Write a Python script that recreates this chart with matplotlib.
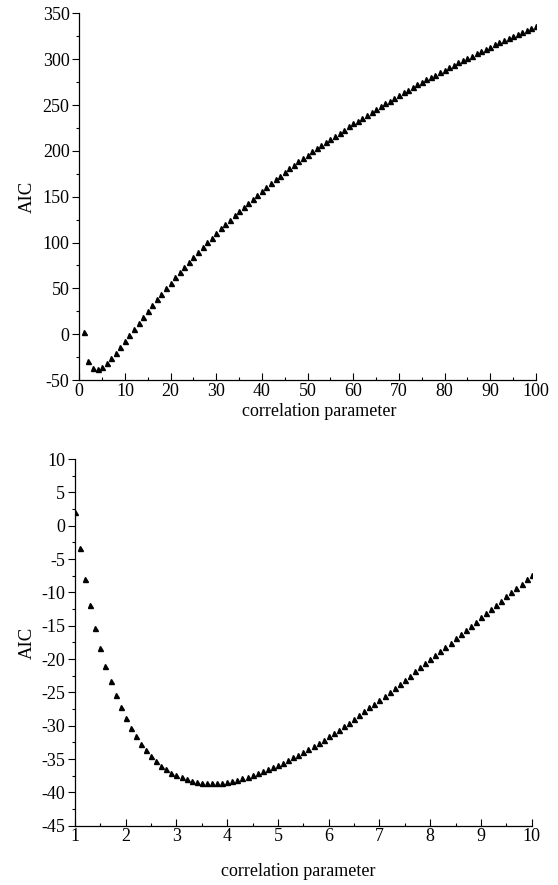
import matplotlib
matplotlib.use('Agg')
import matplotlib.pyplot as plt
from matplotlib.ticker import MultipleLocator

plt.rcParams['font.family'] = ['Liberation Serif', 'DejaVu Serif']
plt.rcParams['axes.unicode_minus'] = False

# Wide scan: correlation parameter 1..100
wide_x = list(range(1, 101))
wide_aic = [
    2.0, -28.85, -37.4, -38.4, -35.9, -31.6, -26.1, -20.0, -13.75, -7.4,
    -0.9, 5.7, 12.3, 18.8, 25.3, 31.7, 38.0, 44.2, 50.3, 56.3,
    62.2, 68.0, 73.6, 79.1, 84.5, 89.8, 95.0, 100.2, 105.3, 110.3,
    115.3, 120.1, 124.9, 129.7, 134.3, 138.9, 143.4, 147.9, 152.3, 156.6,
    160.8, 165.0, 169.1, 173.1, 177.1, 181.0, 184.8, 188.5, 192.2, 195.8,
    199.4, 202.9, 206.4, 209.8, 213.2, 216.6, 220.0, 223.3, 226.6, 229.9,
    233.1, 236.3, 239.5, 242.7, 245.8, 248.8, 251.9, 254.9, 257.9, 260.9,
    263.8, 266.7, 269.5, 272.4, 275.2, 277.9, 280.6, 283.3, 286.0, 288.6,
    291.2, 293.8, 296.4, 298.9, 301.4, 303.9, 306.4, 308.9, 311.3, 313.7,
    316.1, 318.5, 320.8, 323.2, 325.5, 327.8, 330.0, 332.3, 334.5, 336.7,
]

# Fine scan: correlation parameter 1.0..10.0 in steps of 0.1
fine_x = [round(1 + i / 10, 1) for i in range(91)]
fine_aic = [
    2.0, -3.3, -7.95, -11.9, -15.35, -18.35, -21.0, -23.35, -25.4, -27.25,
    -28.85, -30.3, -31.57, -32.69, -33.69, -34.57, -35.34, -36.0, -36.56, -37.03,
    -37.4, -37.75, -38.03, -38.25, -38.42, -38.53, -38.6, -38.62, -38.6, -38.52,
    -38.4, -38.25, -38.07, -37.87, -37.65, -37.4, -37.13, -36.84, -36.53, -36.21,
    -35.9, -35.54, -35.16, -34.76, -34.35, -33.92, -33.48, -33.03, -32.57, -32.1,
    -31.6, -31.1, -30.59, -30.06, -29.52, -28.97, -28.41, -27.84, -27.26, -26.68,
    -26.1, -25.5, -24.9, -24.3, -23.69, -23.08, -22.47, -21.86, -21.24, -20.62,
    -20.0, -19.38, -18.76, -18.14, -17.52, -16.9, -16.27, -15.64, -15.01, -14.38,
    -13.75, -13.12, -12.49, -11.86, -11.23, -10.6, -9.96, -9.32, -8.68, -8.04,
    -7.4,
]


def style_axes(ax, xmajor, ymajor, xlabel_pos, ylabel_pos):
    ax.spines['top'].set_visible(False)
    ax.spines['right'].set_visible(False)
    for side in ('left', 'bottom'):
        ax.spines[side].set_linewidth(0.9)
    ax.xaxis.set_major_locator(MultipleLocator(xmajor))
    ax.xaxis.set_minor_locator(MultipleLocator(xmajor / 2))
    ax.yaxis.set_major_locator(MultipleLocator(ymajor))
    ax.yaxis.set_minor_locator(MultipleLocator(ymajor / 2))
    ax.tick_params(axis='x', which='both', direction='in', pad=2, labelsize=13, width=0.8)
    ax.tick_params(axis='y', which='both', direction='out', pad=2, labelsize=13, width=0.8)
    ax.tick_params(which='major', length=5)
    ax.tick_params(which='minor', length=2.5)
    ax.set_xlabel('correlation parameter', fontsize=13, va='center')
    ax.set_ylabel('AIC', fontsize=13.5, va='center')
    ax.xaxis.set_label_coords(*xlabel_pos)
    ax.yaxis.set_label_coords(*ylabel_pos)


fig = plt.figure(figsize=(5.58, 8.85), dpi=100)

ax_top = fig.add_axes((0.142, 0.5706, 0.8185, 0.4143))
ax_top.plot(wide_x, wide_aic, linestyle='none', marker='^', markersize=3.6, color='black')
ax_top.set_xlim(0, 100)
ax_top.set_ylim(-50, 350)
style_axes(ax_top, 10, 50, (0.525, -0.086), (-0.114, 0.5))

ax_bot = fig.add_axes((0.1344, 0.067, 0.8185, 0.4143))
ax_bot.plot(fine_x, fine_aic, linestyle='none', marker='^', markersize=3.6, color='black')
ax_bot.set_xlim(1, 10)
ax_bot.set_ylim(-45, 10)
style_axes(ax_bot, 1, 5, (0.488, -0.125), (-0.105, 0.5))

fig.savefig('out.png', dpi=100)
